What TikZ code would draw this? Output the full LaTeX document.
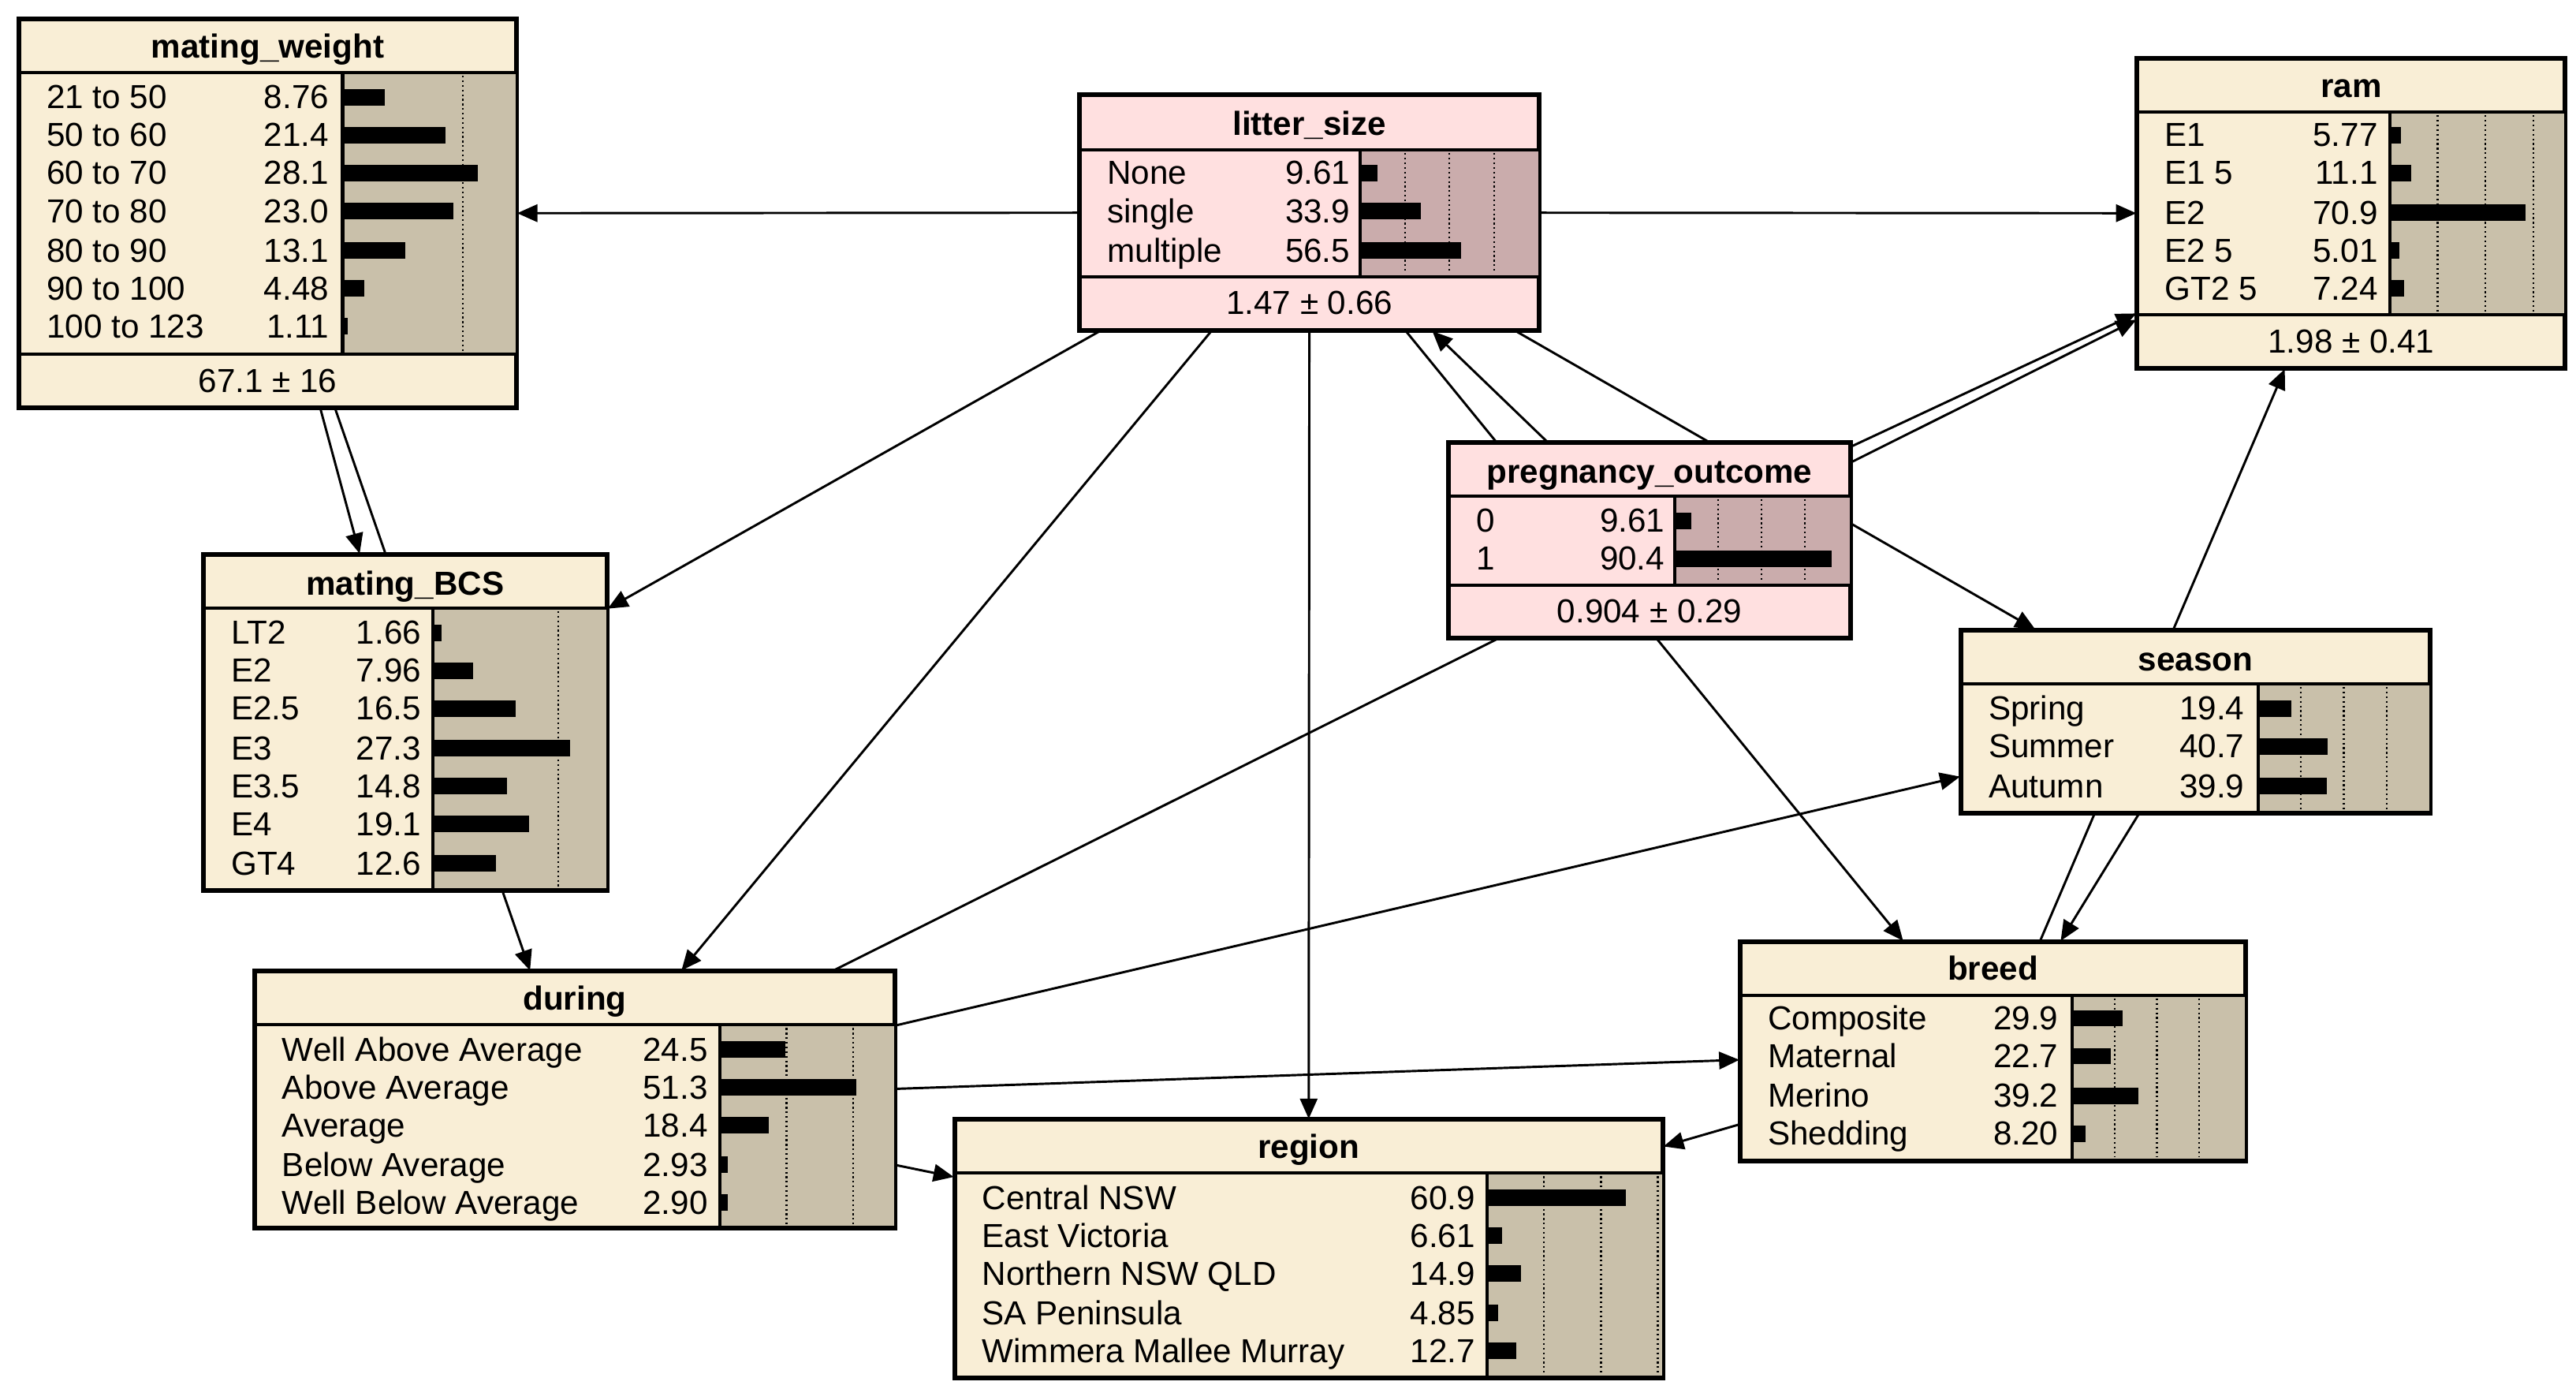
\documentclass[tikz,border=0pt]{standalone}
\usepackage{fontspec}
\setmainfont{Liberation Sans}
\usetikzlibrary{fit,backgrounds,arrows.meta}
\definecolor{cream}{RGB}{249,238,214}
\definecolor{area}{RGB}{201,192,170}
\definecolor{pinkb}{RGB}{255,224,224}
\definecolor{parea}{RGB}{202,172,172}
\tikzset{
 txt/.style={font=\fontsize{11.5}{12}\selectfont, inner sep=0},
 ttl/.style={font=\bfseries\fontsize{11.5}{12}\selectfont, inner sep=0},
 edge/.style={line width=0.8pt, -{Triangle[length=7pt,width=6pt]}},
 frame/.style={draw, line width=1.1pt, inner sep=0},
 bord/.style={line width=1.1pt}
}
\newcommand\nbody[7]{%
 \fill[#7] (#5,#3) rectangle (#2,#4);
 \foreach \p in {25,50,75}{\pgfmathsetmacro\xx{#5+\p*#6}
   \ifdim\xx pt<#2pt \draw[densely dotted,line width=0.6pt] (\xx,#3+2)--(\xx,#4-2);\fi}
 \draw[bord] (#1,#3)--(#2,#3) (#5,#3)--(#5,#4) (#1,#4)--(#2,#4);
 \def\ax{#5}\def\sc{#6}}
\newcommand\nrow[3]{%
 \node[txt,anchor=base west] at (\lx,#1+7) {#2};
 \node[txt,anchor=base east] at (\vx,#1+7) {#3};
 \pgfmathsetmacro\bl{#3*\sc}
 \fill (\ax,#1-5) rectangle ({\ax+\bl},#1+5);}
\begin{document}
\begin{tikzpicture}[x=0.02cm,y=-0.02cm]
\useasboundingbox (0,0) rectangle (1564,843);
% mating_weight
\node[frame,fill=cream,fit={(12,12)(313,247)}] (mw) {};
\node[ttl,anchor=base] at (162.5,35) {mating\_weight};
\nbody{12}{313}{44}{215}{208}{2.92}{area}
\def\lx{28}\def\vx{200}
\nrow{59}{21 to 50}{8.76}\nrow{82}{50 to 60}{21.4}\nrow{105}{60 to 70}{28.1}
\nrow{128}{70 to 80}{23.0}\nrow{152}{80 to 90}{13.1}\nrow{175}{90 to 100}{4.48}
\nrow{198}{100 to 123}{1.11}
\node[txt,anchor=base] at (162.5,238) {67.1 ± 16};
\draw[bord] (mw.north west) rectangle (mw.south east);
% litter_size
\node[frame,fill=pinkb,fit={(656,58)(934,200)}] (lit) {};
\node[ttl,anchor=base] at (795,82) {litter\_size};
\nbody{656}{934}{91}{168}{826}{1.08}{parea}
\def\lx{672}\def\vx{820}
\nrow{105}{None}{9.61}\nrow{128}{single}{33.9}\nrow{152}{multiple}{56.5}
\node[txt,anchor=base] at (795,191) {1.47 ± 0.66};
\draw[bord] (lit.north west) rectangle (lit.south east);
% ram
\node[frame,fill=cream,fit={(1298,36)(1557,223)}] (ram) {};
\node[ttl,anchor=base] at (1427.5,59) {ram};
\nbody{1298}{1557}{68}{191}{1451}{1.16}{area}
\def\lx{1314}\def\vx{1444}
\nrow{82}{E1}{5.77}\nrow{105}{E1 5}{11.1}\nrow{129}{E2}{70.9}
\nrow{152}{E2 5}{5.01}\nrow{175}{GT2 5}{7.24}
\node[txt,anchor=base] at (1427.5,214) {1.98 ± 0.41};
\draw[bord] (ram.north west) rectangle (ram.south east);
% pregnancy_outcome
\node[frame,fill=pinkb,fit={(880,269)(1123,387)}] (preg) {};
\node[ttl,anchor=base] at (1001.5,293) {pregnancy\_outcome};
\nbody{880}{1123}{301}{355}{1017}{1.05}{parea}
\def\lx{896}\def\vx{1011}
\nrow{316}{0}{9.61}\nrow{339}{1}{90.4}
\node[txt,anchor=base] at (1001.5,378) {0.904 ± 0.29};
\draw[bord] (preg.north west) rectangle (preg.south east);
% mating_BCS
\node[frame,fill=cream,fit={(124,337)(368,540)}] (bcs) {};
\node[ttl,anchor=base] at (246,361) {mating\_BCS};
\nbody{124}{368}{369}{540}{263}{3.04}{area}
\def\lx{140}\def\vx{256}
\nrow{384}{LT2}{1.66}\nrow{407}{E2}{7.96}\nrow{430}{E2.5}{16.5}\nrow{454}{E3}{27.3}
\nrow{477}{E3.5}{14.8}\nrow{500}{E4}{19.1}\nrow{524}{GT4}{12.6}
\draw[bord] (bcs.north west) rectangle (bcs.south east);
% season
\node[frame,fill=cream,fit={(1191,383)(1475,493)}] (sea) {};
\node[ttl,anchor=base] at (1333,407) {season};
\nbody{1191}{1475}{415}{493}{1371}{1.04}{area}
\def\lx{1207}\def\vx{1363}
\nrow{430}{Spring}{19.4}\nrow{453}{Summer}{40.7}\nrow{477}{Autumn}{39.9}
\draw[bord] (sea.north west) rectangle (sea.south east);
% during
\node[frame,fill=cream,fit={(155,590)(543,745)}] (dur) {};
\node[ttl,anchor=base] at (349,613) {during};
\nbody{155}{543}{622}{745}{437}{1.62}{area}
\def\lx{171}\def\vx{430}
\nrow{637}{Well Above Average}{24.5}\nrow{660}{Above Average}{51.3}
\nrow{683}{Average}{18.4}\nrow{707}{Below Average}{2.93}\nrow{730}{Well Below Average}{2.90}
\draw[bord] (dur.north west) rectangle (dur.south east);
% breed
\node[frame,fill=cream,fit={(1057,572)(1363,704)}] (breed) {};
\node[ttl,anchor=base] at (1210,595) {breed};
\nbody{1057}{1363}{604}{704}{1258}{1.03}{area}
\def\lx{1073}\def\vx{1250}
\nrow{618}{Composite}{29.9}\nrow{641}{Maternal}{22.7}\nrow{665}{Merino}{39.2}\nrow{688}{Shedding}{8.20}
\draw[bord] (breed.north west) rectangle (breed.south east);
% region
\node[frame,fill=cream,fit={(580,680)(1009,836)}] (reg) {};
\node[ttl,anchor=base] at (794.5,703) {region};
\nbody{580}{1009}{712}{836}{903}{1.38}{area}
\def\lx{596}\def\vx{896}
\nrow{727}{Central NSW}{60.9}\nrow{750}{East Victoria}{6.61}\nrow{773}{Northern NSW QLD}{14.9}
\nrow{797}{SA Peninsula}{4.85}\nrow{820}{Wimmera Mallee Murray}{12.7}
\draw[bord] (reg.north west) rectangle (reg.south east);
% edges
\begin{pgfonlayer}{background}
\draw[edge] (lit) -- (mw);
\draw[edge] (lit) -- (ram);
\draw[edge] (lit) -- (bcs);
\draw[edge] (lit) -- (dur);
\draw[edge] (lit) -- (reg);
\draw[edge] (lit) -- (breed);
\draw[edge] (lit) -- (sea);
\draw[edge] (preg) -- (lit);
\draw[edge] (preg) -- (ram);
\draw[edge] (mw) -- (bcs);
\draw[edge] (mw) -- (dur);
\draw[edge] (dur) -- (ram);
\draw[edge] (dur) -- (sea);
\draw[edge] (dur) -- (breed);
\draw[edge] (dur) -- (reg);
\draw[edge] (breed) -- (reg);
\draw[edge] (breed) -- (ram);
\draw[edge] (sea) -- (breed);
\end{pgfonlayer}
\end{tikzpicture}
\end{document}
